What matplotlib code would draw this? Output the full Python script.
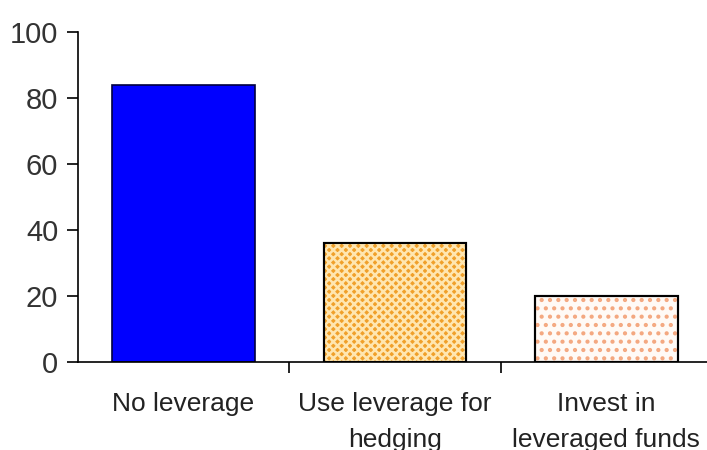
import matplotlib.pyplot as plt
import numpy as np

# survey answers (% of respondents)
categories = ['No leverage', 'Use leverage for\nhedging', 'Invest in\nleveraged funds']
values = [84, 36, 20]

plt.rcParams['font.family'] = ['Liberation Sans', 'DejaVu Sans']
plt.rcParams['hatch.linewidth'] = 1.8

fig = plt.figure(figsize=(7.07, 4.5), dpi=100)
ax = fig.add_axes([0.110, 0.196, 0.897, 0.733])

x = np.arange(len(categories))
w = 0.675

# plain blue bar, then the two patterned ones (base colour + hatch layer)
ax.bar(x[0], values[0], w, color='#0000FF', edgecolor='#000040', linewidth=1.2)

ax.bar(x[1], values[1], w, color='#F0A02A', edgecolor='black', linewidth=1.5)
ax.bar(x[1], values[1], w, fill=False, hatch='xxxx', edgecolor='#FFE6B0', linewidth=0)

ax.bar(x[2], values[2], w, color='#FFFAF6', edgecolor='black', linewidth=1.5)
ax.bar(x[2], values[2], w, fill=False, hatch='..', edgecolor='#F4A880', linewidth=0)
ax.bar(x[2], values[2], w, fill=False, edgecolor='black', linewidth=1.5)
ax.bar(x[1], values[1], w, fill=False, edgecolor='black', linewidth=1.5)

ax.set_xlim(-0.5, 2.5)
ax.set_ylim(0, 100)
ax.set_yticks(range(0, 101, 20))

# ticks sit between the categories, labels centred under the bars
ax.set_xticks([0.5, 1.5, 2.5])
ax.set_xticklabels([])
ax.set_xticks(x, minor=True)
ax.set_xticklabels(categories, minor=True, fontsize=19, color='#222222',
                   linespacing=1.6, va='top')
ax.tick_params(axis='x', which='minor', length=0, pad=22)
ax.tick_params(axis='x', which='major', length=8, width=1.2, direction='out')
ax.tick_params(axis='y', length=8, width=1.2, direction='out', labelsize=21,
               labelcolor='#333333', pad=6)

for s in ['top', 'right']:
    ax.spines[s].set_visible(False)
for s in ['left', 'bottom']:
    ax.spines[s].set_linewidth(1.2)

fig.savefig('out.png', dpi=100)
